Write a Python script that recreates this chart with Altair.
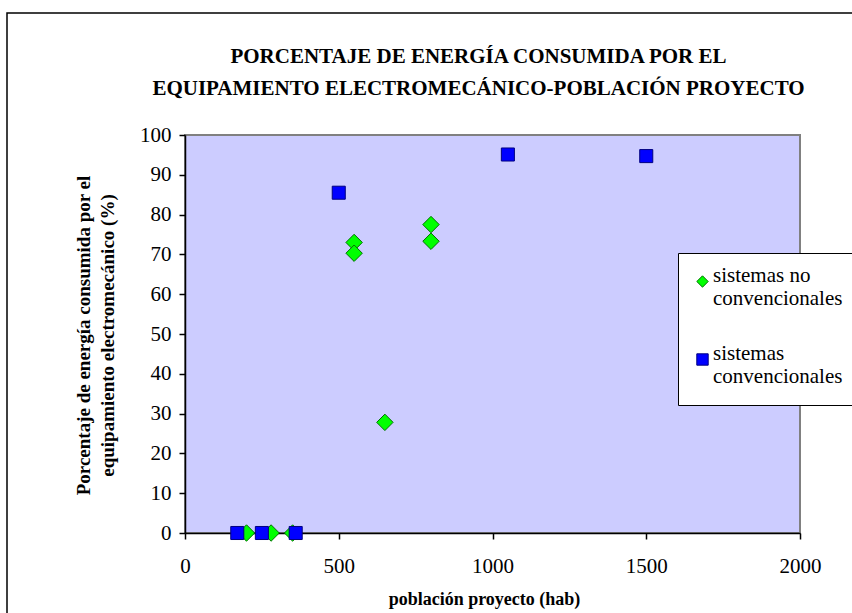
import altair as alt
import pandas as pd

# ---- data ----
series_names = ["sistemas no convencionales", "sistemas convencionales"]
nc_pop = [200, 280, 350, 550, 550, 650, 800, 800]
nc_pct = [0, 0, 0, 73.0, 70.3, 27.8, 77.5, 73.3]
c_pop = [170, 250, 360, 500, 1050, 1500]
c_pct = [0, 0, 0, 85.5, 95.1, 94.7]
x_ticks = [0, 500, 1000, 1500, 2000]
y_ticks = [0, 10, 20, 30, 40, 50, 60, 70, 80, 90, 100]

title_lines = ["PORCENTAJE DE ENERGÍA CONSUMIDA POR EL",
               "EQUIPAMIENTO ELECTROMECÁNICO-POBLACIÓN PROYECTO"]
y_title_lines = ["Porcentaje de energía consumida por el",
                 "equipamiento electromecánico (%)"]
x_title = "población proyecto (hab)"

rows = []
for p, v in zip(nc_pop, nc_pct):
    rows.append({"poblacion": p, "porcentaje": v, "serie": series_names[0]})
for p, v in zip(c_pop, c_pct):
    rows.append({"poblacion": p, "porcentaje": v, "serie": series_names[1]})
df = pd.DataFrame(rows)

FONT = "Liberation Serif"
W, H = 615, 398
L, T = 185, 135

legend = alt.Legend(
    title=None, orient="none", legendX=493, legendY=118,
    fillColor="white", strokeColor="black", padding=18,
    labelFont=FONT, labelFontSize=21, labelColor="black",
    labelBaseline="alphabetic", labelLimit=400,
    labelExpr="datum.label == 'sistemas no convencionales' ? ['sistemas no', 'convencionales'] : ['sistemas', 'convencionales']",
    symbolSize=130, symbolStrokeWidth=1, symbolOffset=-4, labelOffset=0,
    rowPadding=33,
)

base = alt.Chart(df).encode(
    x=alt.X("poblacion:Q",
            scale=alt.Scale(domain=[0, 2000], nice=False),
            axis=alt.Axis(values=x_ticks, title=x_title, grid=False, format="d",
                          domainColor="black", domainWidth=1.5,
                          tickColor="black", tickSize=6, tickWidth=1.5,
                          labelFont=FONT, labelFontSize=21, labelColor="black",
                          labelPadding=16, labelBaseline="top", labelFlush=False,
                          titleFont=FONT, titleFontSize=18, titleFontWeight="bold",
                          titleColor="black", titleX=299, titleY=71,
                          titleBaseline="alphabetic", titleAlign="center")),
    y=alt.Y("porcentaje:Q",
            scale=alt.Scale(domain=[0, 100], nice=False),
            axis=alt.Axis(values=y_ticks, title=y_title_lines, grid=False,
                          domainColor="black", domainWidth=1.5,
                          tickColor="black", tickSize=6, tickWidth=1.5,
                          labelFont=FONT, labelFontSize=21, labelColor="black",
                          labelPadding=8, labelFlush=False,
                          titleFont=FONT, titleFontSize=19, titleFontWeight="bold",
                          titleColor="black", titleLineHeight=24, titleAngle=270,
                          titleX=-96, titleY=200, titleAlign="center",
                          titleBaseline="alphabetic")),
    fill=alt.Fill("serie:N", scale=alt.Scale(domain=series_names, range=["#00FF00", "#0000FF"]), legend=legend),
    shape=alt.Shape("serie:N", scale=alt.Scale(domain=series_names, range=["diamond", "square"]), legend=legend),
    stroke=alt.Stroke("serie:N", scale=alt.Scale(domain=series_names, range=["#007000", "#000080"]), legend=legend),
)

diamonds = base.transform_filter(
    alt.datum.serie == series_names[0]
).mark_point(filled=True, opacity=1, strokeWidth=1, size=270, clip=False)

squares = base.transform_filter(
    alt.datum.serie == series_names[1]
).mark_point(filled=True, opacity=1, strokeWidth=1, size=170, clip=False)

frame = alt.Chart(alt.Data(values=[{"f": 1}])).mark_rect(
    filled=False, stroke="black", strokeWidth=1.5, clip=False
).encode(
    x=alt.value(7 - L), y=alt.value(13 - T),
    x2=alt.value(3000), y2=alt.value(3000),
)

chart = alt.layer(frame, diamonds, squares).properties(
    width=W, height=H,
    autosize=alt.AutoSizeParams(type="none"),
    padding={"left": L, "top": T, "right": 852 - L - W, "bottom": 613 - T - H},
    background="white",
    title=alt.TitleParams(text=title_lines, font=FONT, fontSize=21, fontWeight="bold",
                          color="black", lineHeight=32, anchor="middle", dx=-14,
                          offset=0, dy=87),
).configure_view(
    fill="#CCCCFF", stroke="#808080", strokeWidth=2
).configure_legend(
    labelFont=FONT, labelFontSize=21, labelColor="black"
)

chart.save("out.html", embed_options={"renderer": "svg", "actions": False})
